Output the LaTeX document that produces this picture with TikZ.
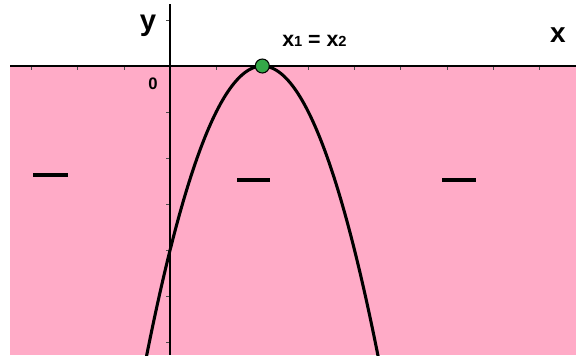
\documentclass[tikz,border=0pt]{standalone}
\usepackage{fontspec}
\setmainfont{Liberation Sans}
\definecolor{pinkbg}{RGB}{255,171,199}
\definecolor{dotgreen}{RGB}{52,168,72}
\begin{document}
\begin{tikzpicture}[x=0.75pt,y=-0.75pt,
  lbl/.style={inner sep=0pt,font=\bfseries},
  axisline/.style={line width=1.5pt,black},
  tickline/.style={line width=0.5pt,black!70},
  curveline/.style={line width=2.3pt,black},
  minusline/.style={line width=2.5pt,black}]
\useasboundingbox (0,0) rectangle (576,355);
\fill[pinkbg] (10,66) rectangle (576,355);
% ticks
\foreach \i in {-3,-2,-1,1,2,3,4,5,6,7,8}
  \draw[tickline] ({170+46.15*\i},66) -- ({170+46.15*\i},70);
\foreach \j in {-1,1,2,3,4,5,6}
  \draw[tickline] (166,{66+46.1*\j}) -- (170,{66+46.1*\j});
% axes
\coordinate (xl) at (10,66);
\coordinate (xr) at (576,66);
\coordinate (yt) at (170,4);
\coordinate (yb) at (170,355);
\draw[axisline] (xl) -- (xr);
\draw[axisline] (yt) -- (yb);
% parabola
\begin{scope}
\clip (10,0) rectangle (576,355);
\draw[curveline] plot[domain=-0.51:4.51,samples=120,smooth,variable=\u]
  ({170+46.15*\u},{66+46.1*(\u-2)*(\u-2)});
\end{scope}
% vertex
\node[circle,draw=black,line width=0.8pt,fill=dotgreen,minimum size=10.5pt,inner sep=0pt] (v) at (262.3,66) {};
% minus signs
\draw[minusline] (33,175) -- (68,175);
\draw[minusline] (237,180) -- (270,180);
\draw[minusline] (442,180) -- (476,180);
% labels
\node[lbl,anchor=base,font=\bfseries\fontsize{22}{22}\selectfont] (ylab) at (148,30) {y};
\node[lbl,anchor=base,font=\bfseries\fontsize{21}{21}\selectfont] (xlab) at (558,42) {x};
\node[lbl,anchor=base,font=\bfseries\fontsize{12.5}{12.5}\selectfont] (zero) at (153,89) {0};
\node[lbl,anchor=base west,font=\bfseries\fontsize{16}{16}\selectfont] (root) at (282,46)
  {x{\fontsize{11}{11}\selectfont 1} = x{\fontsize{11}{11}\selectfont 2}};
\end{tikzpicture}
\end{document}
